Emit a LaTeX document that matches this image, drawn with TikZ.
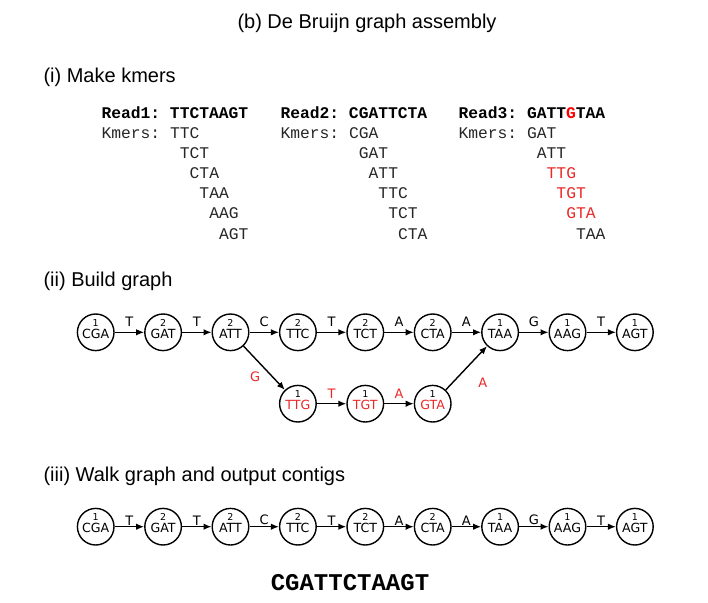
\documentclass[tikz,border=0pt]{standalone}
\usepackage{fontspec}
\setmainfont{Liberation Sans}
\setmonofont{Liberation Mono}
\newfontfamily\nodefont{DejaVu Sans}
\usepackage{tikz}
\usetikzlibrary{matrix,arrows.meta}

\definecolor{myred}{RGB}{235,40,40}
\newcommand{\kmer}[3][black]{\raisebox{0pt}[0pt][0pt]{\nodefont\fontsize{12.6}{15}\selectfont\begin{tabular}{@{}c@{}}{\fontsize{9.5}{10}\selectfont #2}\\[-2.5pt]\textcolor{#1}{#3}\end{tabular}}}

\tikzset{
  kmernode/.style={circle, draw, line width=1.4pt, minimum size=36.6pt, inner sep=0pt},
  heading/.style={anchor=base west, font=\fontsize{20}{24}\selectfont},
  seqline/.style={anchor=base west, font=\fontsize{16.3}{19}\selectfont\ttfamily},
  edgelabel/.style={font=\nodefont\fontsize{13}{15}\selectfont}
}

\begin{document}
\begin{tikzpicture}[x=1pt, y=-1pt, >={Latex[length=8pt,width=6.5pt]}]
  \useasboundingbox (0,0) rectangle (708,602);

  \node[anchor=base, font=\fontsize{20}{24}\selectfont] (title) at (367,28.3) {(b) De Bruijn graph assembly};
  \node[heading] (make) at (40,82) {(i) Make kmers};
  \node[heading] (build) at (40,286.7) {(ii) Build graph};
  \node[heading] (walk) at (40,481.7) {(iii) Walk graph and output contigs};

  \node[seqline] (read1) at (98,118) {\textbf{Read1: TTCTAAGT}};
  \node[seqline, text=black!85] (kmers1) at (98,138) {Kmers:};
  \foreach \k [count=\i from 0] in {TTC,TCT,CTA,TAA,AAG,AGT}
    \node[seqline, text=black!85] (kmer1-\i) at ({166.6+9.78*\i},{138+20.2*\i}) {\k};

  \node[seqline] (read2) at (277,118) {\textbf{Read2: CGATTCTA}};
  \node[seqline, text=black!85] (kmers2) at (277,138) {Kmers:};
  \foreach \k [count=\i from 0] in {CGA,GAT,ATT,TTC,TCT,CTA}
    \node[seqline, text=black!85] (kmer2-\i) at ({345.6+9.78*\i},{138+20.2*\i}) {\k};

  \node[seqline] (read3) at (455,118) {\textbf{Read3: GATT\textcolor{red}{G}TAA}};
  \node[seqline, text=black!85] (kmers3) at (455,138) {Kmers:};
  \foreach \k/\c [count=\i from 0] in {GAT/black!85,ATT/black!85,TTG/myred,TGT/myred,GTA/myred,TAA/black!85}
    \node[seqline, text=\c] (kmer3-\i) at ({523.6+9.78*\i},{138+20.2*\i}) {\k};

  \matrix (m) [matrix of nodes, nodes={kmernode}, row sep=33.4pt, column sep=29.4pt] at (365.3,368)
  {
\kmer{1}{CGA} & \kmer{2}{GAT} & \kmer{2}{ATT} & \kmer{2}{TTC} & \kmer{2}{TCT} & \kmer{2}{CTA} & \kmer{1}{TAA} & \kmer{1}{AAG} & \kmer{1}{AGT} \\
 & & & \kmer[myred]{1}{TTG} & \kmer[myred]{1}{TGT} & \kmer[myred]{1}{GTA} & & & \\
};
  \path[->, line width=1.4pt]
  (m-1-1) edge node [edgelabel, above=1.5pt] {T} (m-1-2)
  (m-1-2) edge node [edgelabel, above=1.5pt] {T} (m-1-3)
  (m-1-3) edge node [edgelabel, above=1.5pt] {C} (m-1-4)
  (m-1-4) edge node [edgelabel, above=1.5pt] {T} (m-1-5)
  (m-1-5) edge node [edgelabel, above=1.5pt] {A} (m-1-6)
  (m-1-6) edge node [edgelabel, above=1.5pt] {A} (m-1-7)
  (m-1-7) edge node [edgelabel, above=1.5pt] {G} (m-1-8)
  (m-1-8) edge node [edgelabel, above=1.5pt] {T} (m-1-9)
  (m-1-3) edge node [edgelabel, below left, text=myred] {G} (m-2-4)
  (m-2-4) edge node [edgelabel, above=1.5pt, text=myred] {T} (m-2-5)
  (m-2-5) edge node [edgelabel, above=1.5pt, text=myred] {A} (m-2-6)
  (m-2-6) edge node [edgelabel, below right, xshift=8pt, yshift=-6pt, text=myred] {A} (m-1-7)
;

  \matrix (w) [matrix of nodes, nodes={kmernode}, column sep=29.4pt] at (365.3,526.7)
  {
\kmer{1}{CGA} & \kmer{2}{GAT} & \kmer{2}{ATT} & \kmer{2}{TTC} & \kmer{2}{TCT} & \kmer{2}{CTA} & \kmer{1}{TAA} & \kmer{1}{AAG} & \kmer{1}{AGT} \\
};
  \path[->, line width=1.4pt]
  (w-1-1) edge node [edgelabel, above=-2.5pt] {T} (w-1-2)
  (w-1-2) edge node [edgelabel, above=-2.5pt] {T} (w-1-3)
  (w-1-3) edge node [edgelabel, above=-2.5pt] {C} (w-1-4)
  (w-1-4) edge node [edgelabel, above=-2.5pt] {T} (w-1-5)
  (w-1-5) edge node [edgelabel, above=-2.5pt] {A} (w-1-6)
  (w-1-6) edge node [edgelabel, above=-2.5pt] {A} (w-1-7)
  (w-1-7) edge node [edgelabel, above=-2.5pt] {G} (w-1-8)
  (w-1-8) edge node [edgelabel, above=-2.5pt] {T} (w-1-9)
;

  \node[anchor=base, font=\fontsize{24}{28}\selectfont\ttfamily\bfseries] (contig) at (350,590) {CGATTCTAAGT};
\end{tikzpicture}
\end{document}
